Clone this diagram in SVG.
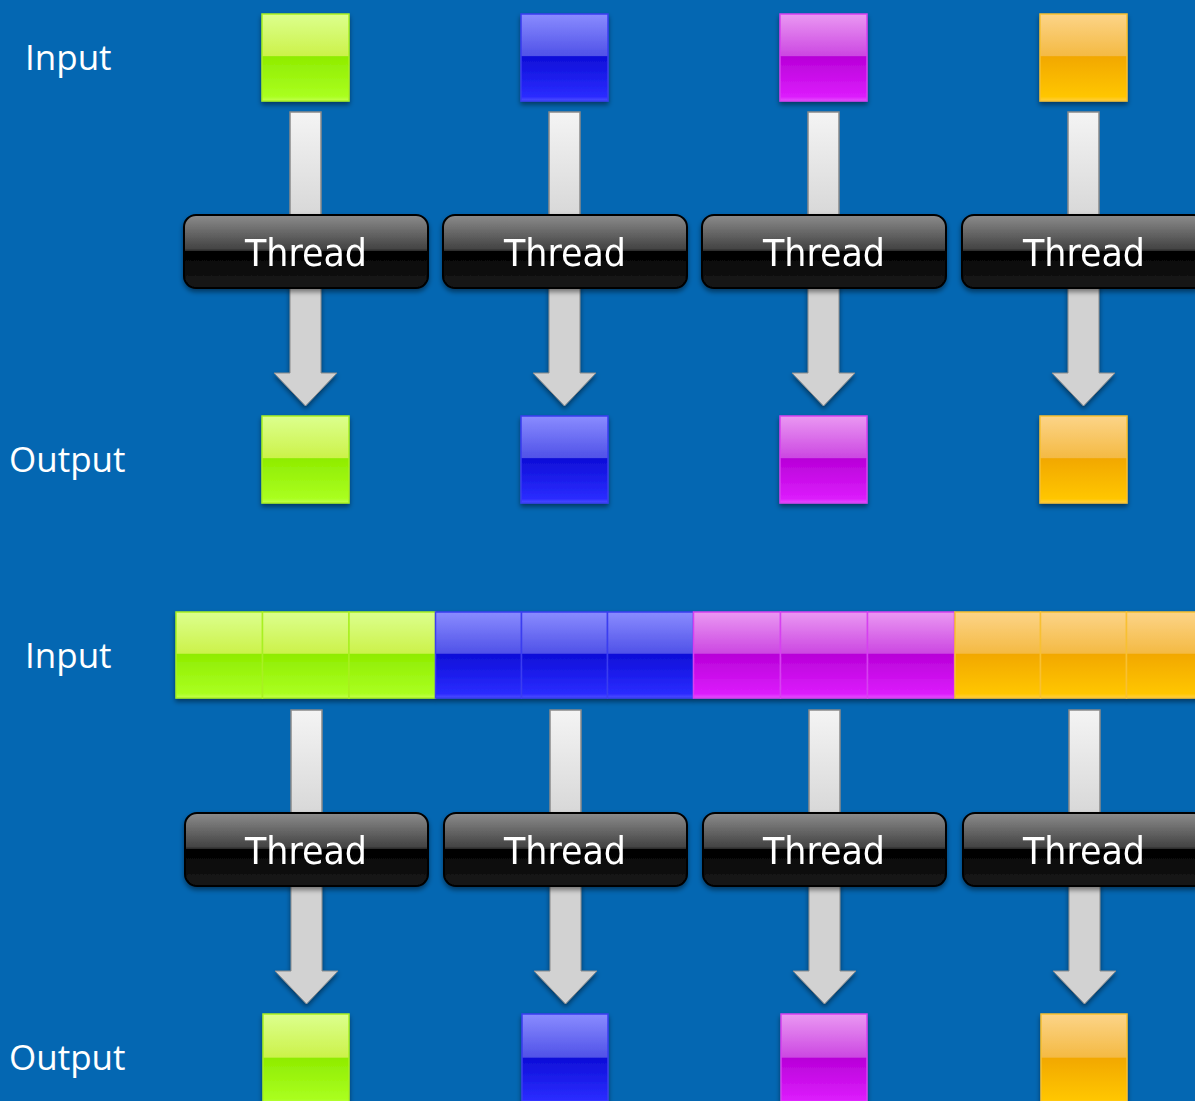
<svg xmlns="http://www.w3.org/2000/svg" width="1195" height="1101" viewBox="0 0 1195 1101">
  <style>
    .lbl { font-family: "Open Sans", "Liberation Sans", sans-serif; font-size: 35px; fill: #ffffff; }
    .thr { font-family: "DejaVu Sans", "Noto Sans", sans-serif; font-size: 37px; fill: #ffffff; text-anchor: middle; }
    .box { stroke: #000; stroke-width: 2; }
    .stem { fill: url(#stemGrad); stroke: #8a8a8a; stroke-width: 1.5; }
    .arrow { fill: #d2d2d2; stroke: #8a8a8a; stroke-width: 1; filter: url(#soft); }
  </style>
  <defs>
    <filter id="soft" x="-20%" y="-20%" width="140%" height="150%">
      <feDropShadow dx="0" dy="3" stdDeviation="2.5" flood-color="#000" flood-opacity="0.45"/>
    </filter>
    <linearGradient id="stemGrad" x1="0" y1="0" x2="0" y2="1">
      <stop offset="0" stop-color="#f4f4f4"/>
      <stop offset="1" stop-color="#d6d6d6"/>
    </linearGradient>
    <linearGradient id="boxGrad" x1="0" y1="0" x2="0" y2="1">
      <stop offset="0" stop-color="#8c8c8c"/>
      <stop offset="0.46" stop-color="#444444"/>
      <stop offset="0.49" stop-color="#2a2a2a"/>
      <stop offset="0.5" stop-color="#000000"/>
      <stop offset="1" stop-color="#1a1a1a"/>
    </linearGradient>
    <linearGradient id="gGreen" x1="0" y1="0" x2="0" y2="1">
      <stop offset="0" stop-color="#dcff8e"/>
      <stop offset="0.48" stop-color="#ccf24a"/>
      <stop offset="0.49" stop-color="#8fec00"/>
      <stop offset="0.95" stop-color="#aaff20"/>
      <stop offset="1" stop-color="#c4ff50"/>
    </linearGradient>
    <linearGradient id="gBlue" x1="0" y1="0" x2="0" y2="1">
      <stop offset="0" stop-color="#8a8cff"/>
      <stop offset="0.48" stop-color="#5052e8"/>
      <stop offset="0.49" stop-color="#0e0ed8"/>
      <stop offset="0.95" stop-color="#2a2cff"/>
      <stop offset="1" stop-color="#5050ff"/>
    </linearGradient>
    <linearGradient id="gMagenta" x1="0" y1="0" x2="0" y2="1">
      <stop offset="0" stop-color="#ea98f2"/>
      <stop offset="0.48" stop-color="#cc48e2"/>
      <stop offset="0.49" stop-color="#b800d8"/>
      <stop offset="0.95" stop-color="#dc1cfc"/>
      <stop offset="1" stop-color="#e650ff"/>
    </linearGradient>
    <linearGradient id="gOrange" x1="0" y1="0" x2="0" y2="1">
      <stop offset="0" stop-color="#fcd488"/>
      <stop offset="0.48" stop-color="#f4ba44"/>
      <stop offset="0.49" stop-color="#f2a800"/>
      <stop offset="0.95" stop-color="#ffc600"/>
      <stop offset="1" stop-color="#ffd040"/>
    </linearGradient>
  </defs>

  <!-- background -->
  <rect x="0" y="0" width="1195" height="1101" fill="#0467b2"/>

  <!-- row labels -->
  <g id="labels">
    <text class="lbl" x="25" y="70">Input</text>
    <text class="lbl" x="9" y="472">Output</text>
    <text class="lbl" x="25" y="668">Input</text>
    <text class="lbl" x="9" y="1070">Output</text>
  </g>

  <!-- connectors: input stems and output arrows -->
  <g id="connectors">
    <!-- upper row -->
    <rect class="stem" x="290" y="112" width="31" height="110"/>
    <rect class="stem" x="549" y="112" width="31" height="110"/>
    <rect class="stem" x="808" y="112" width="31" height="110"/>
    <rect class="stem" x="1068" y="112" width="31" height="110"/>
    <path class="arrow" d="M290,284 H321 V373 H337 L305.5,406 L274,373 H290 Z"/>
    <path class="arrow" d="M549,284 H580 V373 H596 L564.5,406 L533,373 H549 Z"/>
    <path class="arrow" d="M808,284 H839 V373 H855 L823.5,406 L792,373 H808 Z"/>
    <path class="arrow" d="M1068,284 H1099 V373 H1115 L1083.5,406 L1052,373 H1068 Z"/>
    <!-- lower row -->
    <rect class="stem" x="291" y="710" width="31" height="110"/>
    <rect class="stem" x="550" y="710" width="31" height="110"/>
    <rect class="stem" x="809" y="710" width="31" height="110"/>
    <rect class="stem" x="1069" y="710" width="31" height="110"/>
    <path class="arrow" d="M291,882 H322 V971 H338 L306.5,1004 L275,971 H291 Z"/>
    <path class="arrow" d="M550,882 H581 V971 H597 L565.5,1004 L534,971 H550 Z"/>
    <path class="arrow" d="M809,882 H840 V971 H856 L824.5,1004 L793,971 H809 Z"/>
    <path class="arrow" d="M1069,882 H1100 V971 H1116 L1084.5,1004 L1053,971 H1069 Z"/>
  </g>

  <!-- upper row: one input item per thread -->
  <g id="in-green-1" filter="url(#soft)"><rect x="262" y="14" width="87" height="87" fill="url(#gGreen)" stroke="#a8f020" stroke-width="1.5"/></g>
  <g id="in-blue-1" filter="url(#soft)"><rect x="521" y="14" width="87" height="87" fill="url(#gBlue)" stroke="#3a3cf0" stroke-width="1.5"/></g>
  <g id="in-magenta-1" filter="url(#soft)"><rect x="780" y="14" width="87" height="87" fill="url(#gMagenta)" stroke="#d640f0" stroke-width="1.5"/></g>
  <g id="in-orange-1" filter="url(#soft)"><rect x="1040" y="14" width="87" height="87" fill="url(#gOrange)" stroke="#f8c030" stroke-width="1.5"/></g>

  <g id="thread-1a" filter="url(#soft)"><rect class="box" x="184" y="215" width="244" height="73" rx="12" fill="url(#boxGrad)"/><text class="thr" x="306" y="266" textLength="122" lengthAdjust="spacingAndGlyphs">Thread</text></g>
  <g id="thread-1b" filter="url(#soft)"><rect class="box" x="443" y="215" width="244" height="73" rx="12" fill="url(#boxGrad)"/><text class="thr" x="565" y="266" textLength="122" lengthAdjust="spacingAndGlyphs">Thread</text></g>
  <g id="thread-1c" filter="url(#soft)"><rect class="box" x="702" y="215" width="244" height="73" rx="12" fill="url(#boxGrad)"/><text class="thr" x="824" y="266" textLength="122" lengthAdjust="spacingAndGlyphs">Thread</text></g>
  <g id="thread-1d" filter="url(#soft)"><rect class="box" x="962" y="215" width="244" height="73" rx="12" fill="url(#boxGrad)"/><text class="thr" x="1084" y="266" textLength="122" lengthAdjust="spacingAndGlyphs">Thread</text></g>

  <g id="out-green-1" filter="url(#soft)"><rect x="262" y="416" width="87" height="87" fill="url(#gGreen)" stroke="#a8f020" stroke-width="1.5"/></g>
  <g id="out-blue-1" filter="url(#soft)"><rect x="521" y="416" width="87" height="87" fill="url(#gBlue)" stroke="#3a3cf0" stroke-width="1.5"/></g>
  <g id="out-magenta-1" filter="url(#soft)"><rect x="780" y="416" width="87" height="87" fill="url(#gMagenta)" stroke="#d640f0" stroke-width="1.5"/></g>
  <g id="out-orange-1" filter="url(#soft)"><rect x="1040" y="416" width="87" height="87" fill="url(#gOrange)" stroke="#f8c030" stroke-width="1.5"/></g>

  <!-- lower row: a contiguous input strip, three items per thread -->
  <g id="in-strip" filter="url(#soft)">
    <rect x="176" y="612" width="86.5" height="86" fill="url(#gGreen)" stroke="#a8f020" stroke-width="1.5"/>
    <rect x="262.5" y="612" width="86.5" height="86" fill="url(#gGreen)" stroke="#a8f020" stroke-width="1.5"/>
    <rect x="349" y="612" width="86.5" height="86" fill="url(#gGreen)" stroke="#a8f020" stroke-width="1.5"/>
    <rect x="435.5" y="612" width="86" height="86" fill="url(#gBlue)" stroke="#3a3cf0" stroke-width="1.5"/>
    <rect x="521.5" y="612" width="86" height="86" fill="url(#gBlue)" stroke="#3a3cf0" stroke-width="1.5"/>
    <rect x="607.5" y="612" width="86" height="86" fill="url(#gBlue)" stroke="#3a3cf0" stroke-width="1.5"/>
    <rect x="693.5" y="612" width="87" height="86" fill="url(#gMagenta)" stroke="#d640f0" stroke-width="1.5"/>
    <rect x="780.5" y="612" width="87" height="86" fill="url(#gMagenta)" stroke="#d640f0" stroke-width="1.5"/>
    <rect x="867.5" y="612" width="87" height="86" fill="url(#gMagenta)" stroke="#d640f0" stroke-width="1.5"/>
    <rect x="955" y="612" width="85.5" height="86" fill="url(#gOrange)" stroke="#f8c030" stroke-width="1.5"/>
    <rect x="1040.5" y="612" width="86" height="86" fill="url(#gOrange)" stroke="#f8c030" stroke-width="1.5"/>
    <rect x="1126.5" y="612" width="86" height="86" fill="url(#gOrange)" stroke="#f8c030" stroke-width="1.5"/>
  </g>

  <g id="thread-2a" filter="url(#soft)"><rect class="box" x="185" y="813" width="243" height="73" rx="12" fill="url(#boxGrad)"/><text class="thr" x="306" y="864" textLength="122" lengthAdjust="spacingAndGlyphs">Thread</text></g>
  <g id="thread-2b" filter="url(#soft)"><rect class="box" x="444" y="813" width="243" height="73" rx="12" fill="url(#boxGrad)"/><text class="thr" x="565" y="864" textLength="122" lengthAdjust="spacingAndGlyphs">Thread</text></g>
  <g id="thread-2c" filter="url(#soft)"><rect class="box" x="703" y="813" width="243" height="73" rx="12" fill="url(#boxGrad)"/><text class="thr" x="824" y="864" textLength="122" lengthAdjust="spacingAndGlyphs">Thread</text></g>
  <g id="thread-2d" filter="url(#soft)"><rect class="box" x="963" y="813" width="243" height="73" rx="12" fill="url(#boxGrad)"/><text class="thr" x="1084" y="864" textLength="122" lengthAdjust="spacingAndGlyphs">Thread</text></g>

  <g id="out-green-2" filter="url(#soft)"><rect x="263" y="1014" width="86" height="90" fill="url(#gGreen)" stroke="#a8f020" stroke-width="1.5"/></g>
  <g id="out-blue-2" filter="url(#soft)"><rect x="522" y="1014" width="86" height="90" fill="url(#gBlue)" stroke="#3a3cf0" stroke-width="1.5"/></g>
  <g id="out-magenta-2" filter="url(#soft)"><rect x="781" y="1014" width="86" height="90" fill="url(#gMagenta)" stroke="#d640f0" stroke-width="1.5"/></g>
  <g id="out-orange-2" filter="url(#soft)"><rect x="1041" y="1014" width="86" height="90" fill="url(#gOrange)" stroke="#f8c030" stroke-width="1.5"/></g>
</svg>
